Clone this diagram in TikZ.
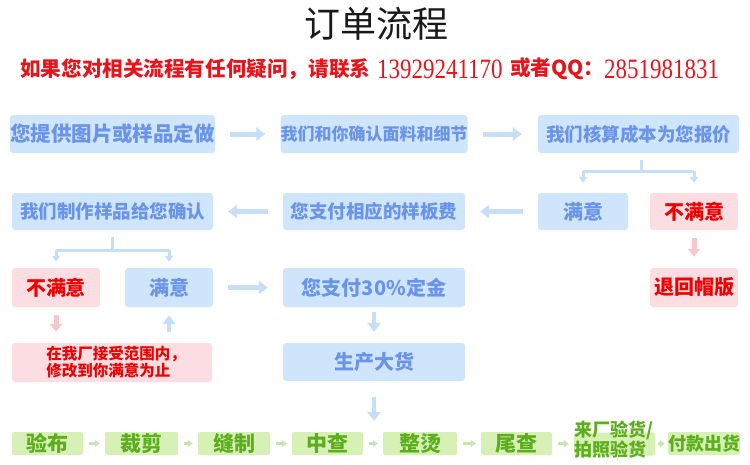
\documentclass[tikz,border=0pt]{standalone}
\usepackage{fontspec}
\newfontfamily\cjk{Noto Sans CJK SC}
\newfontfamily\digitfont{Liberation Serif}[FakeStretch=0.82]
\usetikzlibrary{arrows.meta}
\newcommand\setfs[1]{\fontsize{#1}{#1}\selectfont}
\definecolor{bfill}{HTML}{CFE5FC}
\definecolor{btext}{HTML}{6A94E8}
\definecolor{barr}{HTML}{C6DEF6}
\definecolor{pfill}{HTML}{FCDDE1}
\definecolor{ptext}{HTML}{F00000}
\definecolor{parr}{HTML}{F7C6CF}
\definecolor{gfill}{HTML}{D6F0B6}
\definecolor{gtext}{HTML}{5CAE1C}
\definecolor{garr}{HTML}{C8E4B4}
\definecolor{hred}{HTML}{E8141B}
\begin{document}
\begin{tikzpicture}[x=1pt,y=-1pt,
  box/.style={rounded corners=3pt, inner sep=0pt, align=center},
  bbox/.style={box, fill=bfill, text=btext},
  pbox/.style={box, fill=pfill, text=ptext},
  gbox/.style={box, fill=gfill, text=gtext, rounded corners=2pt, minimum height=23pt},
  barrow/.style={draw=barr, line width=5pt, -{Triangle[width=13pt,length=9pt]}},
  parrow/.style={draw=parr, line width=5pt, -{Triangle[width=12pt,length=8pt]}},
  bline/.style={draw=barr, line width=3pt},
  bsmall/.style={draw=barr, line width=3pt, -{Triangle[width=8pt,length=6pt]}},
  garrow/.style={draw=garr, line width=3pt, -{Triangle[width=7pt,length=5pt]}},
  hdr/.style={inner sep=0pt, anchor=west, text=hred}
]
\useasboundingbox[fill=white] (0,0) rectangle (750,464);

% title
\node[inner sep=0pt, text=black!90] (title) at (376,24) {\cjk\setfs{36}订单流程};

% header line
\node[hdr] (h1) at (20,69) {\cjk\bfseries\setfs{20.6}如果您对相关流程有任何疑问，请联系};
\node[hdr] (h2) at (377,69) {\digitfont\setfs{28}13929241170};
\node[hdr] (h3) at (510,69) {\cjk\bfseries\setfs{20.6}或者QQ：};
\node[hdr] (h4) at (604,69) {\digitfont\setfs{28}2851981831};

% row 1
\node[bbox, minimum width=201pt, minimum height=38pt, font=\cjk\bfseries\setfs{20.5}] (n1) at (112.5,134) {您提供图片或样品定做};
\node[bbox, minimum width=182pt, minimum height=38pt, font=\cjk\bfseries\setfs{17}] (n2) at (374,134) {我们和你确认面料和细节};
\node[bbox, minimum width=201pt, minimum height=38pt, font=\cjk\bfseries\setfs{18.5}] (n3) at (638.5,134) {我们核算成本为您报价};

% row 2
\node[bbox, minimum width=201pt, minimum height=37pt, font=\cjk\bfseries\setfs{18.5}] (n4) at (112.5,211.5) {我们制作样品给您确认};
\node[bbox, minimum width=182pt, minimum height=37pt, font=\cjk\bfseries\setfs{18.5}] (n5) at (374,211.5) {您支付相应的样板费};
\node[bbox, minimum width=90pt, minimum height=37pt, font=\cjk\bfseries\setfs{20}] (n6) at (583,211.5) {满意};
\node[pbox, minimum width=88pt, minimum height=37pt, font=\cjk\bfseries\setfs{20}] (n7) at (694,211.5) {不满意};

% row 3
\node[pbox, minimum width=88pt, minimum height=39pt, font=\cjk\bfseries\setfs{20}] (n8) at (56,287.5) {不满意};
\node[bbox, minimum width=88pt, minimum height=39pt, font=\cjk\bfseries\setfs{20}] (n9) at (169,287.5) {满意};
\node[bbox, minimum width=182pt, minimum height=39pt, font=\cjk\bfseries\setfs{20}] (n10) at (374,287.5) {您支付30\%定金};
\node[pbox, minimum width=88pt, minimum height=39pt, font=\cjk\bfseries\setfs{20}] (n11) at (694,287.5) {退回帽版};

% row 4
\node[pbox, minimum width=200pt, minimum height=39pt] (n12) at (112,362.5) {};
\node[inner sep=0pt, align=left, text=ptext, font=\cjk\bfseries\setfs{15.5}] (n12t) at ([xshift=4pt]n12.center) {\baselineskip=20pt 在我厂接受范围内，\\修改到你满意为止};
\node[bbox, minimum width=182pt, minimum height=38pt, font=\cjk\bfseries\setfs{20}] (n13) at (374,362) {生产大货};

% green row
\node[gbox, minimum width=71pt, font=\cjk\bfseries\setfs{21}] (g1) at (47.5,443.5) {验布};
\node[gbox, minimum width=73pt, font=\cjk\bfseries\setfs{21}] (g2) at (141.5,443.5) {裁剪};
\node[gbox, minimum width=72pt, font=\cjk\bfseries\setfs{21}] (g3) at (234,443.5) {缝制};
\node[gbox, minimum width=71pt, font=\cjk\bfseries\setfs{21}] (g4) at (327.5,443.5) {中查};
\node[gbox, minimum width=74pt, font=\cjk\bfseries\setfs{21}] (g5) at (420,443.5) {整烫};
\node[gbox, minimum width=71pt, font=\cjk\bfseries\setfs{21}] (g6) at (516.5,443.5) {尾查};
\node[gbox, minimum width=81pt] (g7) at (614.5,444) {};
\node[inner sep=0pt, align=left, text=gtext, font=\cjk\bfseries\setfs{18}] (g7t) at (614,440) {\baselineskip=24pt 来厂验货/\\拍照验货};
\node[gbox, minimum width=72pt, font=\cjk\bfseries\setfs{18}] (g8) at (704,443.5) {付款出货};

% arrows row 1
\draw[barrow] ([xshift=15pt]n1.east) -- ([xshift=-15pt]n2.west);
\draw[barrow] ([xshift=15pt]n2.east) -- ([xshift=-16pt]n3.west);
% branch from n3
\coordinate (j3) at ([xshift=3pt,yshift=-18pt]n3.south);
\draw[bline] ([xshift=3pt,yshift=-7pt]n3.south) -- (j3);
\draw[bline] (j3 -| n6) -- (j3 -| n7);
\draw[bsmall] (j3 -| n6) -- ([yshift=10pt]n6.north);
\draw[bsmall] (j3 -| n7) -- ([yshift=10pt]n7.north);
% arrows row 2
\draw[barrow] ([xshift=-15pt]n6.west) -- ([xshift=15pt]n5.east);
\draw[barrow] ([xshift=-15pt]n5.west) -- ([xshift=15pt]n4.east);
\draw[parrow] ([yshift=-8pt]n7.south) -- ([yshift=11pt]n11.north);
% branch from n4
\coordinate (j4) at ([yshift=-20pt]n4.south);
\draw[bline] ([yshift=-7pt]n4.south) -- (j4);
\draw[bline] (j4 -| n8) -- (j4 -| n9);
\draw[bsmall] (j4 -| n8) -- ([yshift=6pt]n8.north);
\draw[bsmall] (j4 -| n9) -- ([yshift=6pt]n9.north);
% arrows row 3
\draw[barrow] ([xshift=15pt]n9.east) -- ([xshift=-15pt]n10.west);
\draw[parrow] ([yshift=-8pt]n8.south) -- ([yshift=11pt]n12.north -| n8);
\draw[barrow, line width=4pt] ([yshift=11pt]n12.north -| n9) -- ([yshift=-8pt]n9.south);
\draw[barrow, line width=4pt] ([yshift=-5pt]n10.south) -- ([yshift=11pt]n13.north);
\coordinate (gin) at (374,421);
\draw[barrow, line width=4pt] ([yshift=-16pt]n13.south) -- (gin);

% green arrows
\draw[garrow] ([xshift=6pt]g1.east) -- ([xshift=-5pt]g2.west);
\draw[garrow] ([xshift=6pt]g2.east) -- ([xshift=-5pt]g3.west);
\draw[garrow] ([xshift=6pt]g3.east) -- ([xshift=-5pt]g4.west);
\draw[garrow] ([xshift=6pt]g4.east) -- ([xshift=-5pt]g5.west);
\draw[garrow] ([xshift=6pt]g5.east) -- ([xshift=-5pt]g6.west);
\draw[garrow] ([xshift=6pt]g6.east) -- ([xshift=-5pt]g7.west);
\draw[garrow] ([xshift=3pt]g7.east) -- ([xshift=-3pt]g8.west);
\end{tikzpicture}
\end{document}
